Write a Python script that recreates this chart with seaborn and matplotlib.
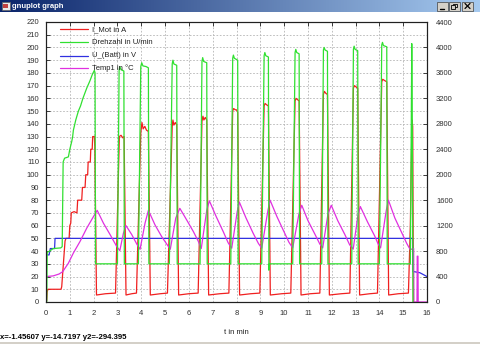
import numpy as np
import pandas as pd
import matplotlib
matplotlib.use("Agg")
import matplotlib.pyplot as plt
import seaborn as sns
from matplotlib.lines import Line2D
from matplotlib.patches import Rectangle

# ---------------- measured data (time in minutes) ----------------
t_imot = [0.00, 0.03, 0.05, 0.08, 0.40, 0.63, 0.66, 0.80, 0.84, 0.97, 1.00, 1.04, 1.06, 1.18, 1.30,
          1.33, 1.50, 1.53, 1.64, 1.67, 1.75, 1.77, 1.86, 1.88, 1.94, 1.96, 2.03, 2.05, 2.12,
          2.50, 2.92, 3.08, 3.15, 3.22, 3.28, 3.36,
          3.60, 3.80, 3.98, 4.03, 4.08, 4.15, 4.22, 4.30, 4.38,
          4.80, 5.10, 5.30, 5.33, 5.37, 5.43, 5.49, 5.57,
          6.00, 6.39, 6.55, 6.59, 6.63, 6.69, 6.75, 6.83,
          7.30, 7.68, 7.84, 7.88, 7.95, 8.00, 8.05, 8.13,
          8.60, 8.98, 9.16, 9.20, 9.26, 9.34, 9.42,
          9.90, 10.28, 10.46, 10.50, 10.56, 10.63, 10.71,
          11.10, 11.50, 11.65, 11.69, 11.75, 11.82, 11.90,
          12.40, 12.76, 12.91, 12.95, 13.02, 13.09, 13.17,
          13.60, 13.92, 14.10, 14.14, 14.22, 14.31, 14.39,
          14.80, 15.22, 15.30, 15.37, 15.40, 15.43]
i_mot = [1, 1, 8, 10, 10, 10, 12, 48, 50, 50, 60, 62, 70, 71, 70,
         80, 80, 90, 90, 100, 100, 110, 110, 120, 120, 130, 130, 122, 5.5,
         6.5, 7, 130, 131, 129, 130, 5.5,
         6.5, 7, 133, 141, 136, 138, 135, 134, 5.5,
         6.5, 7, 138, 143, 139, 141, 139, 5.5,
         6.5, 7, 142, 146, 143, 145, 143, 5.5,
         6.5, 7, 150, 152, 151, 151, 149, 5.5,
         6.5, 7, 154, 156, 155, 154, 5.5,
         6.5, 7, 158, 160, 159, 158, 5.5,
         6.5, 7, 163, 165.5, 164, 163, 5.5,
         6.5, 7, 168, 170, 169, 168, 5.5,
         6.5, 7, 173, 175, 174, 173, 5.5,
         6.5, 7, 60, 143, 138, 0]

t_rpm = [0.00, 0.03, 0.05, 0.15, 0.30, 0.62, 0.68, 0.72, 0.78, 0.94, 1.00, 1.08, 1.12, 1.15, 1.25,
         1.36, 1.45, 1.55, 1.63, 1.71, 1.78, 1.85, 1.95, 2.03, 2.06, 2.08,
         3.00, 3.07, 3.10, 3.15, 3.27, 3.29,
         3.88, 3.98, 4.02, 4.07, 4.20, 4.30, 4.32,
         5.18, 5.30, 5.33, 5.37, 5.49, 5.51,
         6.47, 6.55, 6.58, 6.62, 6.75, 6.77,
         7.76, 7.84, 7.87, 7.91, 8.05, 8.07,
         9.06, 9.16, 9.19, 9.23, 9.34, 9.36, 9.38,
         10.36, 10.46, 10.49, 10.53, 10.63, 10.65,
         11.58, 11.65, 11.68, 11.72, 11.82, 11.84,
         12.84, 12.91, 12.94, 12.98, 13.09, 13.11,
         14.00, 14.10, 14.13, 14.17, 14.31, 14.33,
         15.30, 15.34, 15.36, 15.38, 15.41]
rpm = [0, 0, 780, 800, 840, 850, 870, 2200, 2260, 2280, 2400, 2520, 2600, 2700, 2860,
       3000, 3080, 3200, 3280, 3360, 3420, 3480, 3580, 3640, 3600, 600,
       600, 3640, 3700, 3650, 3630, 600,
       600, 3700, 3760, 3710, 3700, 3680, 600,
       600, 3740, 3800, 3740, 3720, 600,
       600, 3780, 3840, 3780, 3760, 600,
       600, 3830, 3880, 3830, 3800, 600,
       600, 3870, 3920, 3870, 3850, 500, 600,
       600, 3920, 3970, 3920, 3900, 600,
       600, 3960, 4000, 3960, 3940, 600,
       600, 3970, 4020, 3970, 3950, 600,
       600, 4040, 4080, 4030, 4010, 600,
       600, 2800, 4060, 3000, 0]

t_ubatt = [0.00, 0.13, 0.18, 0.36, 0.38, 15.39, 15.41, 15.70, 15.85, 16.00]
u_batt = [37, 37, 42, 42, 50, 50, 24, 23, 21.5, 20]

t_temp = [0.00, 0.30, 0.55, 0.70, 0.94, 1.15, 1.43, 1.71, 1.99, 2.15, 2.41, 2.69, 2.97, 3.10,
          3.25, 3.36, 3.60, 3.81, 3.95, 4.16, 4.30, 4.58, 4.86, 5.14, 5.22,
          5.45, 5.62, 5.91, 6.19, 6.40, 6.52,
          6.75, 6.86, 7.15, 7.45, 7.65, 7.80,
          8.03, 8.12, 8.40, 8.70, 8.92, 9.06,
          9.32, 9.41, 9.70, 10.00, 10.20, 10.36,
          10.62, 10.74, 11.00, 11.30, 11.50, 11.62,
          11.84, 11.98, 12.25, 12.55, 12.75, 12.90,
          13.10, 13.20, 13.50, 13.80, 13.95, 14.05,
          14.29, 14.38, 14.65, 14.95, 15.15, 15.30,
          15.40, 15.44, 15.45, 15.58, 15.59, 15.62, 15.63, 16.00]
temp1 = [20, 20.5, 22, 23.8, 30.5, 38.5, 47.6, 58, 67, 72, 62, 53, 43.6, 40.4,
         54, 60, 53, 45.6, 41.4, 62, 72, 60.5, 51.3, 43.6, 41.5,
         66, 73.6, 64.4, 55.3, 47.5, 42,
         72, 79.5, 67, 55, 46.5, 42.3,
         71, 78.5, 66, 54, 46, 42.3,
         72, 80, 67, 55, 47, 42.5,
         69, 76, 64, 53, 45.5, 42.5,
         69, 76, 64, 53, 45, 41.5,
         68, 75, 63, 52, 45.5, 42.5,
         72, 80, 66, 54, 46, 41,
         42, 42, 0, 0, 36, 36, 0, 0]

labels = ["I_Mot in A", "Drehzahl in U/min", "U_(Batt) in V", "Temp1 in \u00b0C"]
colors = ["#f02020", "#30e030", "#3030e0", "#e030e0"]

x_ticks = list(range(0, 17))
y_ticks = list(range(0, 221, 10))
y2_ticks = list(range(0, 4401, 400))

# ---------------- figure ----------------
sns.set_style("white")
plt.rcParams["font.family"] = ["Liberation Sans", "DejaVu Sans"]

W, H = 480, 344
fig = plt.figure(figsize=(W / 100, H / 100), dpi=100)
fig.patch.set_facecolor("white")


def fx(px):
    return px / W


def fy(py):
    return 1 - py / H


# window title bar
tb = fig.add_axes([0, fy(12), 1, 12 / H])
grad = np.linspace(0, 1, 256).reshape(1, -1)
cmap = matplotlib.colors.LinearSegmentedColormap.from_list("tb", ["#0a246a", "#a6caf0"])
tb.imshow(grad, aspect="auto", cmap=cmap, extent=(0, W, 12, 0))
tb.set_xlim(0, W)
tb.set_ylim(12, 0)
tb.axis("off")
tb.add_patch(Rectangle((1.5, 1.5), 8, 8, facecolor="#e8e8e8", edgecolor="#606060", lw=0.5))
tb.add_patch(Rectangle((3, 4), 5, 4, facecolor="#c04040", edgecolor="none"))
tb.text(12, 6, "gnuplot graph", color="white", fontsize=5.5, fontweight="bold", va="center", ha="left")
for x0 in (437, 449, 462):
    tb.add_patch(Rectangle((x0, 1.5), 11, 9, facecolor="#d4d0c8", edgecolor="#404040", lw=0.5))
tb.plot([439.5, 443.5], [8.5, 8.5], color="black", lw=1.0)
tb.add_patch(Rectangle((452.5, 3.5), 4, 3.5, facecolor="none", edgecolor="black", lw=0.6))
tb.add_patch(Rectangle((451, 5), 4, 3.5, facecolor="#d4d0c8", edgecolor="black", lw=0.6))
tb.plot([465, 470], [3.5, 8.5], color="black", lw=0.9)
tb.plot([465, 470], [8.5, 3.5], color="black", lw=0.9)

# bottom status strip
fig.add_artist(Rectangle((0, 0), 1, 2.5 / H, transform=fig.transFigure,
                         facecolor="#d4d0c8", edgecolor="none"))

# plot area
ax = fig.add_axes([fx(46), fy(302), fx(427) - fx(46), fy(22) - fy(302)])
ax2 = ax.twinx()

ax.set_xlim(0, 16)
ax.set_ylim(0, 220)
ax2.set_ylim(0, 4400)
ax.set_xticks(x_ticks)
ax.set_yticks(y_ticks)
ax2.set_yticks(y2_ticks)
ax.grid(True, color="#b4b4b4", lw=0.6, ls=(0, (2, 2)))
ax.set_axisbelow(True)

sns.lineplot(x=t_imot, y=i_mot, ax=ax, color=colors[0], lw=0.9, estimator=None, sort=False, legend=False)
sns.lineplot(x=t_ubatt, y=u_batt, ax=ax, color=colors[2], lw=0.9, estimator=None, sort=False, legend=False)
sns.lineplot(x=t_temp, y=temp1, ax=ax, color=colors[3], lw=0.9, estimator=None, sort=False, legend=False)
sns.lineplot(x=t_rpm, y=rpm, ax=ax2, color=colors[1], lw=0.9, estimator=None, sort=False, legend=False)
ax.set_xlim(0, 16)
ax.set_ylim(0, 220)
ax2.set_ylim(0, 4400)

for a in (ax, ax2):
    for s in a.spines.values():
        s.set_color("#202020")
        s.set_linewidth(0.8)
ax.tick_params(axis="both", direction="in", length=3, width=0.6, labelsize=5.5, colors="#202020",
               labelcolor="#303030")
ax.tick_params(axis="x", top=True, pad=6)
ax.tick_params(axis="y", left=True, right=False, pad=5)
ax2.tick_params(axis="y", direction="in", length=3, width=0.6, labelsize=5.5, pad=6.5,
                colors="#202020", labelcolor="#303030")
ax.set_xlabel("")
ax.set_ylabel("")
ax2.set_ylabel("")

# key
rows = [29.3, 42.3, 55.7, 68.3]
for lab, col, py in zip(labels, colors, rows):
    fig.add_artist(Line2D([fx(60), fx(88)], [fy(py), fy(py)], transform=fig.transFigure,
                          color=col, lw=0.9))
    fig.text(fx(92), fy(py), lab, fontsize=5.5, va="center", ha="left", color="#202020")

fig.text(fx(236), fy(333), "t in min", fontsize=5.5, ha="center", va="center", color="#202020")
fig.text(fx(-0.5), fy(337.5), "x=-1.45607 y=-14.7197 y2=-294.395", fontsize=5.6,
         fontweight="bold", ha="left", va="center", color="black")

fig.savefig("out.png", dpi=100)
